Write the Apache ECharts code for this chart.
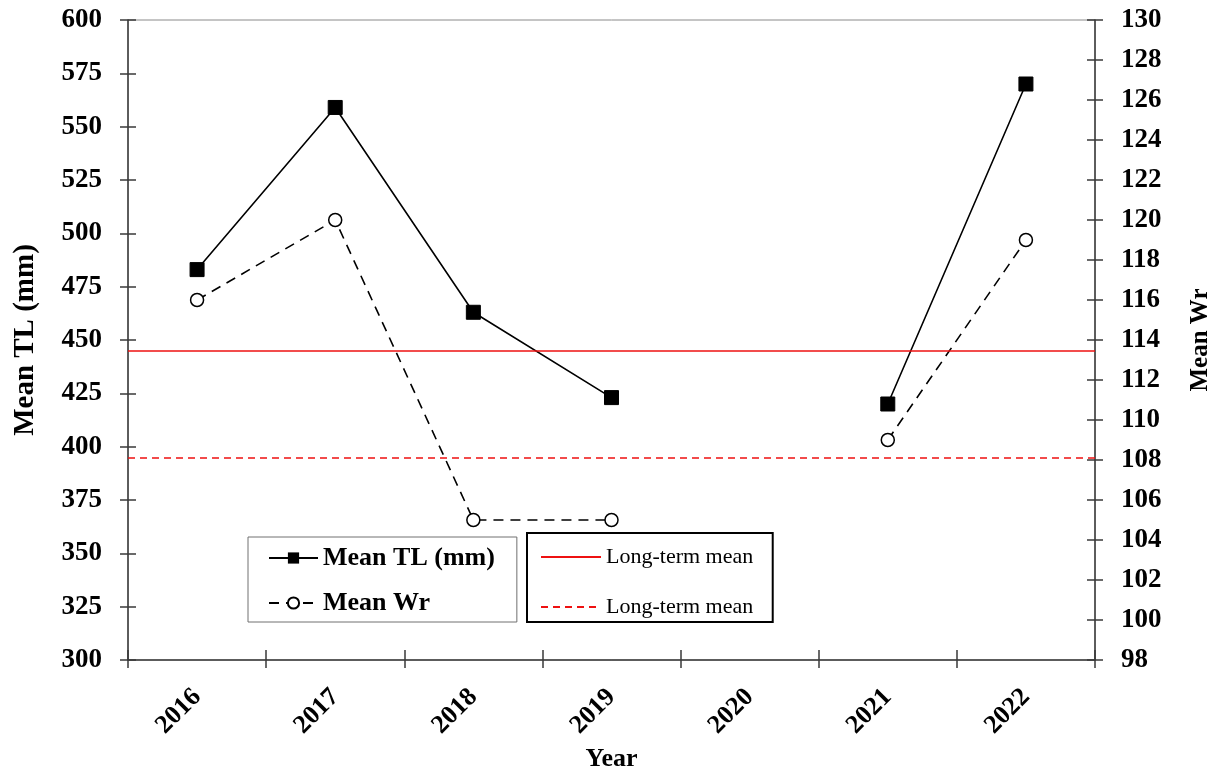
<!DOCTYPE html>
<html>
<head>
<meta charset="utf-8">
<script src="https://cdn.jsdelivr.net/npm/echarts@6/dist/echarts.min.js"></script>
<style>html,body{margin:0;padding:0;background:#fff;overflow:hidden;}#c{width:1215px;height:774px;}</style>
</head>
<body>
<div id="c"></div>
<script>
const years = ['2016', '2017', '2018', '2019', '2020', '2021', '2022'];
const meanTL = [483, 559, 463, 423, null, 420, 570];
const meanWr = [116, 120, 105, 105, null, 109, 119];
const longTermTL = 444.8;
const longTermWr = 108.1;
const tlTicks = { min: 300, max: 600, interval: 25 };
const wrTicks = { min: 98, max: 130, interval: 2 };

const FONT = 'Liberation Serif';
const axisColor = '#3a3a3a';
const RED = '#ee1111';
const chart = echarts.init(document.getElementById('c'));

function yAx(t, pos, opts) {
  return Object.assign({
    type: 'value', position: pos, min: t.min, max: t.max, interval: t.interval,
    splitLine: { show: false },
    axisLine: { show: true, lineStyle: { color: axisColor, width: 1.5 } },
    axisTick: { show: true, inside: false, length: 8, lineStyle: { color: axisColor, width: 1.5 } },
    axisLabel: { show: true, color: '#000', fontFamily: FONT, fontWeight: 'bold', fontSize: 27, margin: 26 }
  }, opts);
}

chart.setOption({
  animation: false,
  backgroundColor: '#fff',
  grid: { left: 128, right: 120, top: 20, bottom: 114, outerBoundsMode: 'none', containLabel: false,
          show: true, borderColor: '#8a8a8a', borderWidth: 1 },
  legend: [
    {
      data: ['Mean TL (mm)', 'Mean Wr'],
      orient: 'vertical', left: 248, top: 537,
      padding: [8, 22, 6, 20], itemGap: 19, itemWidth: 49, itemHeight: 14,
      borderColor: '#707070', borderWidth: 1,
      textStyle: { fontFamily: FONT, fontWeight: 'bold', fontSize: 26, color: '#000' }
    },
    {
      data: ['Long-term mean', 'Long-term mean '],
      orient: 'vertical', left: 527, top: 533,
      padding: [13, 14, 4, 13], itemGap: 28, itemWidth: 60, itemHeight: 14,
      borderColor: '#000', borderWidth: 2,
      itemStyle: { opacity: 0 },
      textStyle: { fontFamily: FONT, fontSize: 22, color: '#000' }
    }
  ],
  xAxis: [
    {
      type: 'category', data: years, position: 'bottom',
      name: 'Year', nameLocation: 'middle', nameGap: 86,
      nameTextStyle: { fontFamily: FONT, fontWeight: 'bold', fontSize: 26, color: '#000' },
      axisLine: { show: true, lineStyle: { color: axisColor, width: 1.5 } },
      axisTick: { show: true, alignWithLabel: false, inside: false, length: 8, lineStyle: { color: axisColor, width: 1.5 } },
      axisLabel: { rotate: 45, margin: 33, color: '#000', fontFamily: FONT, fontWeight: 'bold', fontSize: 26 },
      splitLine: { show: false }
    },
    {
      type: 'category', data: years, position: 'bottom', gridIndex: 0,
      axisLine: { show: false },
      axisTick: { show: true, inside: true, length: 10, lineStyle: { color: axisColor, width: 1.5 } },
      axisLabel: { show: false }, splitLine: { show: false }
    }
  ],
  yAxis: [
    yAx(tlTicks, 'left', {
      name: 'Mean TL (mm)', nameLocation: 'middle', nameGap: 88, nameRotate: 90,
      nameTextStyle: { fontFamily: FONT, fontWeight: 'bold', fontSize: 29, color: '#000' }
    }),
    yAx(wrTicks, 'right', {
      name: 'Mean Wr', nameLocation: 'middle', nameGap: 93, nameRotate: 90,
      nameTextStyle: { fontFamily: FONT, fontWeight: 'bold', fontSize: 25, color: '#000' }
    }),
    yAx(tlTicks, 'left', { axisLine: { show: false }, axisLabel: { show: false },
      axisTick: { show: true, inside: true, length: 8, lineStyle: { color: axisColor, width: 1.5 } } }),
    yAx(wrTicks, 'right', { axisLine: { show: false }, axisLabel: { show: false },
      axisTick: { show: true, inside: true, length: 8, lineStyle: { color: axisColor, width: 1.5 } } })
  ],
  series: [
    {
      name: 'Mean TL (mm)', type: 'line', yAxisIndex: 0, data: meanTL,
      symbol: 'rect', symbolSize: 14, connectNulls: false,
      lineStyle: { color: '#000', width: 1.6 },
      itemStyle: { color: '#000', borderColor: '#000' }
    },
    {
      name: 'Mean Wr', type: 'line', yAxisIndex: 1, data: meanWr,
      symbol: 'circle', symbolSize: 13, connectNulls: false,
      lineStyle: { color: '#000', width: 1.6, type: [10, 7] },
      itemStyle: { color: '#fff', borderColor: '#000', borderWidth: 1.5 }
    },
    {
      name: 'Long-term mean', type: 'line', yAxisIndex: 0, data: [],
      symbol: 'none',
      lineStyle: { color: RED, width: 1.6 },
      itemStyle: { color: RED },
      markLine: {
        silent: true, symbol: ['none', 'none'], label: { show: false },
        lineStyle: { color: RED, width: 1.6, type: 'solid' },
        data: [{ yAxis: longTermTL }]
      }
    },
    {
      name: 'Long-term mean ', type: 'line', yAxisIndex: 1, data: [],
      symbol: 'none',
      lineStyle: { color: RED, width: 1.6, type: [7, 5] },
      itemStyle: { color: RED },
      markLine: {
        silent: true, symbol: ['none', 'none'], label: { show: false },
        lineStyle: { color: RED, width: 1.6, type: [7, 5] },
        data: [{ yAxis: longTermWr }]
      }
    }
  ]
});
</script>
</body>
</html>
